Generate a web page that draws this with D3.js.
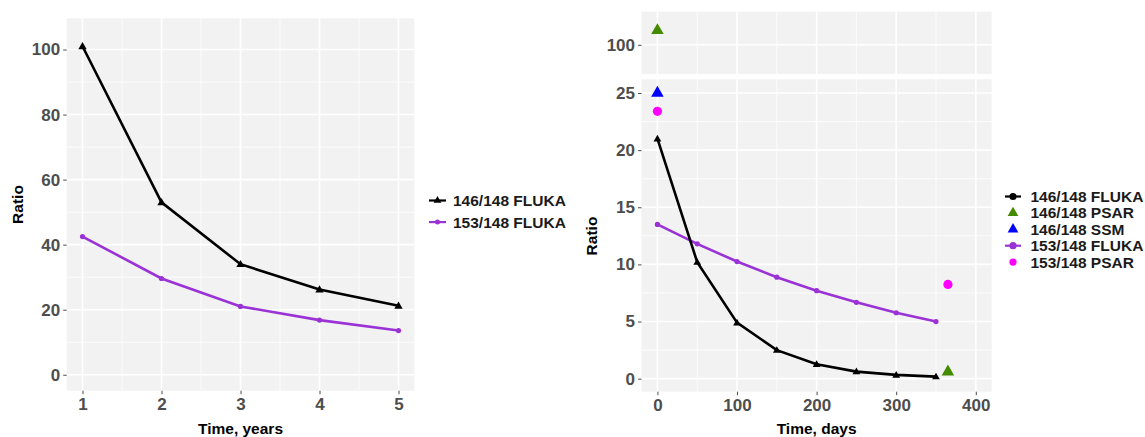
<!DOCTYPE html>
<html><head><meta charset="utf-8">
<script src="https://cdn.jsdelivr.net/npm/d3@7"></script>
<style>
body{margin:0;background:#fff;}
svg{display:block;font-family:"Liberation Sans",Arial,sans-serif;}
.tick text{font-weight:bold;fill:#4d4d4d;}
</style></head>
<body>
<script>
// ---- data ----
const leftYears = [1, 2, 3, 4, 5];
const left146Fluka = [101, 53, 34, 26.2, 21.2];
const left153Fluka = [42.5, 29.6, 21, 16.8, 13.6];
const leftXTicks = [1, 2, 3, 4, 5];
const leftYTicks = [0, 20, 40, 60, 80, 100];

const rightDays = [0, 50, 100, 150, 200, 250, 300, 350];
const right146Fluka = [21, 10.2, 4.9, 2.5, 1.26, 0.62, 0.33, 0.18];
const right153Fluka = [13.5, 11.8, 10.25, 8.88, 7.7, 6.68, 5.77, 5.0];
const psar146Days = [0, 365];
const psar146Values = [112, 0.6];
const ssm146Days = [0];
const ssm146Values = [25];
const psar153Days = [0, 365];
const psar153Values = [23.4, 8.25];
const rightXTicks = [0, 100, 200, 300, 400];
const rightYTicksLow = [0, 5, 10, 15, 20, 25];
const rightYTicksHigh = [100];

const leftLegend = ["146/148 FLUKA", "153/148 FLUKA"];
const rightLegend = ["146/148 FLUKA", "146/148 PSAR", "146/148 SSM", "153/148 FLUKA", "153/148 PSAR"];

const BLACK = "#000000", PURPLE = "#9A32D6", GREEN = "#458B00", BLUE = "#0000FF", MAGENTA = "#FF00FF";
const BG = "#F2F2F2";

const svg = d3.select("body").append("svg").attr("width", 1145).attr("height", 437);

function panel(g, x, y, xTicks, xMinor, yTicks, yMinor) {
  const [x0, x1] = x.range(), [y1, y0] = y.range();
  g.append("rect").attr("x", x0).attr("y", y0).attr("width", x1 - x0).attr("height", y1 - y0).attr("fill", BG);
  g.selectAll(null).data(yMinor).enter().append("line")
    .attr("x1", x0).attr("x2", x1).attr("y1", d => y(d)).attr("y2", d => y(d))
    .attr("stroke", "#fff").attr("stroke-width", 0.8);
  g.selectAll(null).data(xMinor).enter().append("line")
    .attr("y1", y0).attr("y2", y1).attr("x1", d => x(d)).attr("x2", d => x(d))
    .attr("stroke", "#fff").attr("stroke-width", 0.8);
  g.selectAll(null).data(yTicks).enter().append("line")
    .attr("x1", x0).attr("x2", x1).attr("y1", d => y(d)).attr("y2", d => y(d))
    .attr("stroke", "#fff").attr("stroke-width", 1.6);
  g.selectAll(null).data(xTicks).enter().append("line")
    .attr("y1", y0).attr("y2", y1).attr("x1", d => x(d)).attr("x2", d => x(d))
    .attr("stroke", "#fff").attr("stroke-width", 1.6);
}
function styleAxis(sel) {
  sel.select(".domain").remove();
  sel.selectAll(".tick line").attr("stroke", "#4d4d4d").attr("stroke-width", 1);
  sel.selectAll(".tick text").style("font-size", "17px");
}
const tri = d3.symbol().type(d3.symbolTriangle);

// ---------- LEFT ----------
{
  const x = d3.scaleLinear().domain([0.8, 5.2]).range([66.7, 414.3]);
  const y = d3.scaleLinear().domain([-4.9, 109.6]).range([390.7, 18.3]);
  const g = svg.append("g");
  panel(g, x, y, leftXTicks, [1.5, 2.5, 3.5, 4.5], leftYTicks, [10, 30, 50, 70, 90]);
  const ax = g.append("g").attr("transform", "translate(0,390.7)")
    .call(d3.axisBottom(x).tickValues(leftXTicks).tickSize(3.5).tickPadding(4).tickFormat(d3.format("d")));
  styleAxis(ax);
  const ay = g.append("g").attr("transform", "translate(66.7,0)")
    .call(d3.axisLeft(y).tickValues(leftYTicks).tickSize(3.5).tickPadding(3).tickFormat(d3.format("d")));
  styleAxis(ay);
  const line = d3.line().x((d, i) => x(leftYears[i])).y(d => y(d));
  g.append("path").datum(left153Fluka).attr("d", line).attr("fill", "none").attr("stroke", PURPLE).attr("stroke-width", 2.6);
  g.selectAll(null).data(left153Fluka).enter().append("circle")
    .attr("cx", (d, i) => x(leftYears[i])).attr("cy", d => y(d)).attr("r", 2.6).attr("fill", PURPLE);
  g.append("path").datum(left146Fluka).attr("d", line).attr("fill", "none").attr("stroke", BLACK).attr("stroke-width", 2.6);
  g.selectAll(null).data(left146Fluka).enter().append("path")
    .attr("d", tri.size(30)).attr("transform", (d, i) => `translate(${x(leftYears[i])},${y(d) + 0.5})`).attr("fill", BLACK);
  g.append("text").attr("transform", "translate(23,204.5) rotate(-90)").attr("text-anchor", "middle")
    .style("font-weight", "bold").style("font-size", "15.5px").text("Ratio");
  g.append("text").attr("x", 240.5).attr("y", 434).attr("text-anchor", "middle")
    .style("font-weight", "bold").style("font-size", "15.5px").text("Time, years");
  // legend
  const lg = g.append("g");
  const cols = [BLACK, PURPLE];
  leftLegend.forEach((t, i) => {
    const cy = 200.5 + i * 21.6;
    lg.append("line").attr("x1", 429).attr("x2", 446).attr("y1", cy).attr("y2", cy).attr("stroke", cols[i]).attr("stroke-width", 2.2);
    if (i === 0) lg.append("path").attr("d", tri.size(26)).attr("transform", `translate(437.5,${cy})`).attr("fill", cols[i]);
    else lg.append("circle").attr("cx", 437.5).attr("cy", cy).attr("r", 2.5).attr("fill", cols[i]);
    lg.append("text").attr("x", 453).attr("y", cy + 5.5).style("font-weight", "bold").style("font-size", "15.5px").attr("fill", "#1a1a1a").text(t);
  });
}

// ---------- RIGHT ----------
{
  const x = d3.scaleLinear().domain([-20, 420]).range([641.5, 991.7]);
  const yHi = d3.scaleLinear().domain([75.6, 127.7]).range([74, 11.7]);
  const yLo = d3.scaleLinear().domain([-1.14, 26.2]).range([391.7, 79.3]);
  const g = svg.append("g");
  const xMinor = [50, 150, 250, 350];
  panel(g, x, yHi, rightXTicks, xMinor, rightYTicksHigh, []);
  panel(g, x, yLo, rightXTicks, xMinor, rightYTicksLow, [2.5, 7.5, 12.5, 17.5, 22.5]);
  const ax = g.append("g").attr("transform", "translate(0,391.7)")
    .call(d3.axisBottom(x).tickValues(rightXTicks).tickSize(3.5).tickPadding(4).tickFormat(d3.format("d")));
  styleAxis(ax);
  const ay1 = g.append("g").attr("transform", "translate(641.5,0)")
    .call(d3.axisLeft(yHi).tickValues(rightYTicksHigh).tickSize(3.5).tickPadding(3).tickFormat(d3.format("d")));
  styleAxis(ay1);
  const ay2 = g.append("g").attr("transform", "translate(641.5,0)")
    .call(d3.axisLeft(yLo).tickValues(rightYTicksLow).tickSize(3.5).tickPadding(3).tickFormat(d3.format("d")));
  styleAxis(ay2);
  const yOf = v => v > 50 ? yHi(v) : yLo(v);
  const line = d3.line().x((d, i) => x(rightDays[i])).y(d => yLo(d));
  g.append("path").datum(right153Fluka).attr("d", line).attr("fill", "none").attr("stroke", PURPLE).attr("stroke-width", 2.6);
  g.selectAll(null).data(right153Fluka).enter().append("circle")
    .attr("cx", (d, i) => x(rightDays[i])).attr("cy", d => yLo(d)).attr("r", 2.6).attr("fill", PURPLE);
  g.append("path").datum(right146Fluka).attr("d", line).attr("fill", "none").attr("stroke", BLACK).attr("stroke-width", 2.6);
  g.selectAll(null).data(right146Fluka).enter().append("path")
    .attr("d", tri.size(26)).attr("transform", (d, i) => `translate(${x(rightDays[i])},${yLo(d) + 0.5})`).attr("fill", BLACK);
  // single points
  g.selectAll(null).data(psar153Values).enter().append("circle")
    .attr("cx", (d, i) => x(psar153Days[i])).attr("cy", d => yOf(d)).attr("r", 4.6).attr("fill", MAGENTA);
  g.selectAll(null).data(ssm146Values).enter().append("path")
    .attr("d", tri.size(68)).attr("transform", (d, i) => `translate(${x(ssm146Days[i])},${yOf(d)})`).attr("fill", BLUE);
  g.selectAll(null).data(psar146Values).enter().append("path")
    .attr("d", tri.size(68)).attr("transform", (d, i) => `translate(${x(psar146Days[i])},${yOf(d)})`).attr("fill", GREEN);

  g.append("text").attr("transform", "translate(597,236) rotate(-90)").attr("text-anchor", "middle")
    .style("font-weight", "bold").style("font-size", "15.5px").text("Ratio");
  g.append("text").attr("x", 816.6).attr("y", 434).attr("text-anchor", "middle")
    .style("font-weight", "bold").style("font-size", "15.5px").text("Time, days");
  // legend
  const lg = g.append("g");
  const cols = [BLACK, GREEN, BLUE, PURPLE, MAGENTA];
  const kinds = ["line", "tri", "tri", "line", "dot"];
  rightLegend.forEach((t, i) => {
    const cy = 196.5 + i * 16.4;
    if (kinds[i] === "line") {
      lg.append("line").attr("x1", 1005).attr("x2", 1021).attr("y1", cy).attr("y2", cy).attr("stroke", cols[i]).attr("stroke-width", 2.2);
      lg.append("circle").attr("cx", 1013).attr("cy", cy).attr("r", 3.6).attr("fill", cols[i]);
    } else if (kinds[i] === "tri") {
      lg.append("path").attr("d", tri.size(50)).attr("transform", `translate(1013,${cy})`).attr("fill", cols[i]);
    } else {
      lg.append("circle").attr("cx", 1013).attr("cy", cy).attr("r", 3.6).attr("fill", cols[i]);
    }
    lg.append("text").attr("x", 1030.5).attr("y", cy + 5.5).style("font-weight", "bold").style("font-size", "15.5px").attr("fill", "#1a1a1a").text(t);
  });
}
</script>
</body></html>
